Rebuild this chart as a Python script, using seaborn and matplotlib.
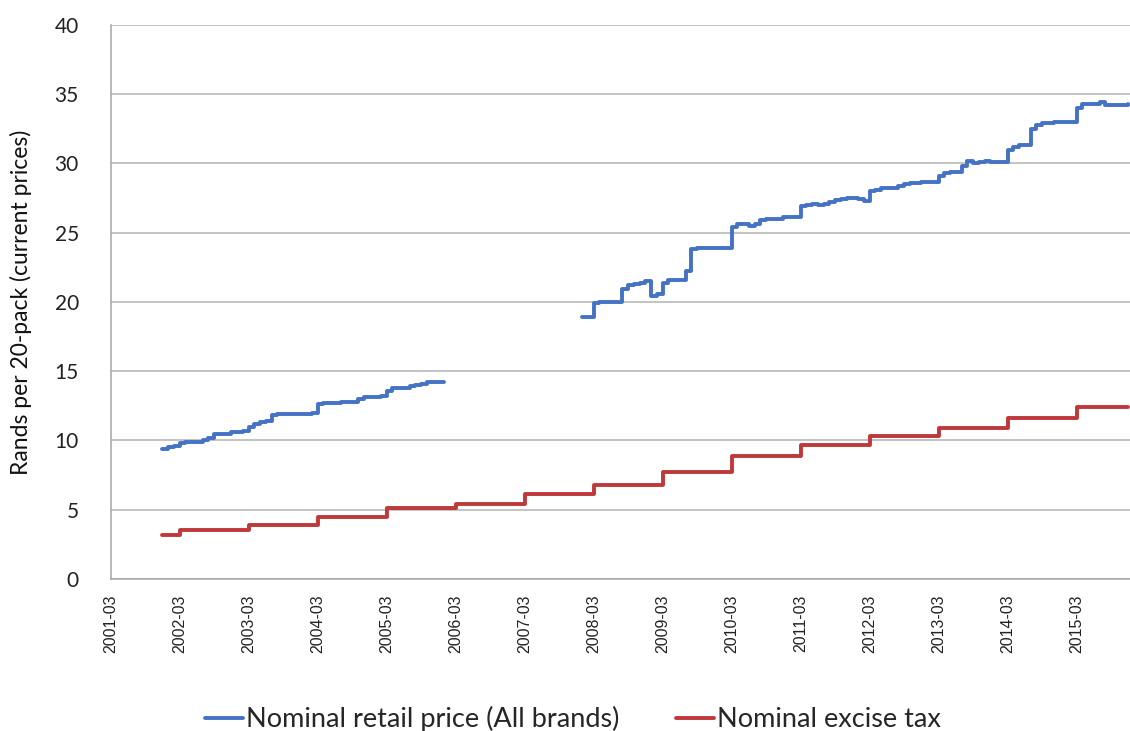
import numpy as np
import pandas as pd
import matplotlib.pyplot as plt
import seaborn as sns

# x axis: months counted from 2001-03 (0) to 2015-12 (177)
tick_labels = ['2001-03', '2002-03', '2003-03', '2004-03', '2005-03', '2006-03', '2007-03',
               '2008-03', '2009-03', '2010-03', '2011-03', '2012-03', '2013-03', '2014-03', '2015-03']
tick_months = [0, 12, 24, 36, 48, 60, 72, 84, 96, 108, 120, 132, 144, 156, 168]

# nominal retail price, first run 2001-12 .. 2006-01 (monthly)
retail_start_1 = 9
retail_1 = [9.4, 9.5, 9.6, 9.8, 9.9, 9.9, 9.9, 10.0, 10.2, 10.5, 10.5, 10.5, 10.6, 10.6, 10.7,
            11.0, 11.2, 11.3, 11.4, 11.8, 11.9, 11.9, 11.9, 11.9, 11.9, 11.9, 12.0,
            12.6, 12.7, 12.7, 12.7, 12.8, 12.8, 12.8, 13.0, 13.1, 13.1, 13.1, 13.2,
            13.6, 13.8, 13.8, 13.8, 13.9, 14.0, 14.1, 14.2, 14.2, 14.2, 14.2]

# nominal retail price, second run 2008-01 .. 2015-12 (monthly)
retail_start_2 = 82
retail_2 = [18.9, 18.9, 19.9, 20.0, 20.0, 20.0, 20.0, 20.9, 21.2, 21.3, 21.4, 21.5, 20.4, 20.6,
            21.4, 21.6, 21.6, 21.6, 22.2, 23.8, 23.9, 23.9, 23.9, 23.9, 23.9, 23.9,
            25.4, 25.6, 25.6, 25.5, 25.6, 25.9, 26.0, 26.0, 26.0, 26.1, 26.1, 26.1,
            26.9, 27.0, 27.1, 27.0, 27.1, 27.2, 27.35, 27.4, 27.5, 27.5, 27.45, 27.3,
            28.0, 28.1, 28.2, 28.2, 28.2, 28.4, 28.5, 28.6, 28.6, 28.65, 28.65, 28.65,
            29.1, 29.3, 29.4, 29.4, 29.8, 30.2, 30.0, 30.1, 30.2, 30.1, 30.1, 30.1,
            31.0, 31.2, 31.3, 31.35, 32.5, 32.8, 32.9, 32.9, 33.0, 33.0, 33.0, 33.0,
            34.0, 34.3, 34.3, 34.3, 34.4, 34.2, 34.2, 34.2, 34.25, 34.3]

# nominal excise tax: month of each change and the new level
excise_months = [9, 12, 24, 36, 48, 60, 72, 84, 96, 108, 120, 132, 144, 156, 168, 177]
excise_levels = [3.2, 3.5, 3.9, 4.5, 5.1, 5.4, 6.1, 6.8, 7.7, 8.9, 9.7, 10.3, 10.9, 11.6, 12.4, 12.4]

blue = '#4472c4'
red = '#c0393a'

df1 = pd.DataFrame({'month': np.arange(retail_start_1, retail_start_1 + len(retail_1)), 'price': retail_1})
df2 = pd.DataFrame({'month': np.arange(retail_start_2, retail_start_2 + len(retail_2)), 'price': retail_2})
tax = pd.DataFrame({'month': excise_months, 'tax': excise_levels})

sns.set_style('white')
plt.rcParams['font.family'] = ['Lato', 'DejaVu Sans']

fig = plt.figure(figsize=(11.3, 7.31), dpi=100)
ax = fig.add_axes([0.098, 0.208, 0.902, 0.758])

sns.lineplot(data=df1, x='month', y='price', ax=ax, color=blue, linewidth=2.8,
             drawstyle='steps-post', label='Nominal retail price (All brands)')
sns.lineplot(data=df2, x='month', y='price', ax=ax, color=blue, linewidth=2.8,
             drawstyle='steps-post')
sns.lineplot(data=tax, x='month', y='tax', ax=ax, color=red, linewidth=2.8,
             drawstyle='steps-post', label='Nominal excise tax')

ax.set_xlim(0, 177.3)
ax.set_ylim(0, 40)
ax.set_yticks(range(0, 41, 5))
ax.set_xticks(tick_months)
ax.set_xticklabels(tick_labels, rotation=90, fontsize=11.5, family='Liberation Sans', color='#222222')
ax.tick_params(axis='x', direction='out', length=5, width=1, color='#a6a6a6', pad=6)
ax.tick_params(axis='y', direction='out', length=9, width=1, color='#a6a6a6', pad=14,
               labelsize=15, labelcolor='#222222')
ax.yaxis.grid(True, color='#b3b3b3', linewidth=1.1)
ax.xaxis.grid(False)
for side in ['top', 'right']:
    ax.spines[side].set_visible(False)
for side in ['left', 'bottom']:
    ax.spines[side].set_color('#a6a6a6')
    ax.spines[side].set_linewidth(1.1)

ax.set_xlabel('')
ax.set_ylabel('Rands per 20-pack (current prices)', fontsize=16.5, color='#111111')
ax.yaxis.set_label_coords(-0.077, 0.5)

ax.get_legend().remove()
handles, labels = ax.get_legend_handles_labels()
fig.legend(handles, labels, loc='lower center', bbox_to_anchor=(0.507, -0.035), ncol=2,
           frameon=False, fontsize=19.5, handlelength=1.4, handletextpad=0.1, columnspacing=2.1)

plt.savefig('out.png', dpi=100)
